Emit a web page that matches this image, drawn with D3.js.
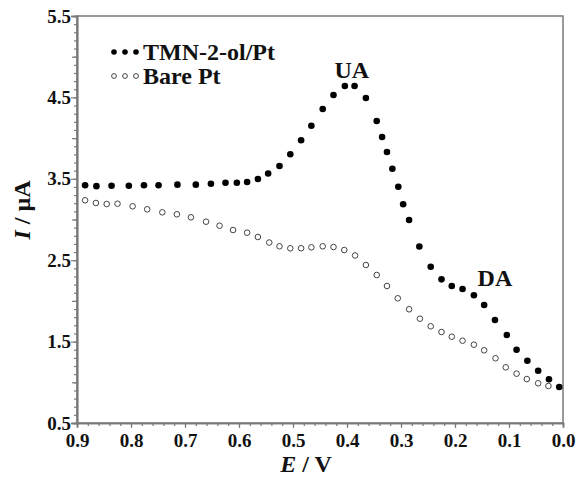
<!DOCTYPE html>
<html>
<head>
<meta charset="utf-8">
<script src="https://cdn.jsdelivr.net/npm/d3@7"></script>
<style>
  body { margin: 0; background: #fff; }
</style>
</head>
<body>
<div id="graf"></div>
<script>
// data (E in V, I in µA)
const eTmn = [0.885, 0.864, 0.836, 0.804, 0.776, 0.749, 0.714, 0.680, 0.652, 0.625, 0.604, 0.585,
  0.565, 0.546, 0.525, 0.505, 0.485, 0.466, 0.445, 0.425, 0.404, 0.386, 0.365, 0.345, 0.335,
  0.326, 0.316, 0.305, 0.296, 0.285, 0.266, 0.245, 0.225, 0.206, 0.186, 0.165, 0.146, 0.126,
  0.104, 0.086, 0.066, 0.046, 0.026, 0.007]
const iTmn = [3.42, 3.41, 3.415, 3.415, 3.42, 3.42, 3.428, 3.428, 3.44, 3.452, 3.452, 3.461,
  3.498, 3.565, 3.657, 3.801, 3.973, 4.152, 4.357, 4.53, 4.64, 4.64, 4.493, 4.21, 4.014,
  3.829, 3.624, 3.403, 3.187, 2.994, 2.668, 2.42, 2.265, 2.183, 2.146, 2.069, 1.95, 1.765,
  1.581, 1.40, 1.265, 1.142, 1.037, 0.942]

const eBare = [0.885, 0.865, 0.845, 0.825, 0.797, 0.770, 0.742, 0.715, 0.689, 0.661, 0.636,
  0.611, 0.585, 0.565, 0.544, 0.525, 0.505, 0.485, 0.466, 0.445, 0.425, 0.405, 0.385, 0.365,
  0.345, 0.326, 0.306, 0.285, 0.265, 0.245, 0.225, 0.206, 0.186, 0.165, 0.146, 0.125, 0.106,
  0.086, 0.067, 0.046, 0.027]
const iBare = [3.236, 3.203, 3.19, 3.194, 3.162, 3.125, 3.088, 3.064, 3.027, 2.973, 2.924,
  2.871, 2.838, 2.785, 2.717, 2.671, 2.646, 2.647, 2.658, 2.671, 2.662, 2.625, 2.558, 2.441,
  2.318, 2.183, 2.032, 1.897, 1.781, 1.688, 1.618, 1.56, 1.511, 1.462, 1.393, 1.295, 1.184,
  1.106, 1.04, 0.988, 0.955]

const xTicks = [0.9, 0.8, 0.7, 0.6, 0.5, 0.4, 0.3, 0.2, 0.1, 0.0]
const yTicks = [0.5, 1.5, 2.5, 3.5, 4.5, 5.5]
const seriesNames = ['TMN-2-ol/Pt', 'Bare Pt']
const peakLabels = [{ txt: 'UA', e: 0.391, i: 4.74 }, { txt: 'DA', e: 0.126, i: 2.18 }]

const fuente = "'Liberation Serif', Tinos, 'Times New Roman', Times, 'Nimbus Roman', 'DejaVu Serif', serif"

const anchoTotal = 587
const altoTotal = 482
const margin = { top: 16, bottom: 59, left: 77, right: 24 }
const ancho = anchoTotal - margin.left - margin.right
const alto = altoTotal - margin.top - margin.bottom
const gris = '#7a7a7a'

const svg = d3.select('#graf')
  .append('svg')
  .attr('width', anchoTotal)
  .attr('height', altoTotal)

const g = svg.append('g')
  .attr('transform', `translate(${margin.left}, ${margin.top})`)

// scales
const x = d3.scaleLinear().domain([0.9, 0.0]).range([0, ancho])
const y = d3.scaleLinear().domain([0.5, 5.5]).range([alto, 0])

// minor ticks
const xMinor = d3.range(0, 46).map((d) => d * 0.02)
const yMinor = d3.range(5, 56).map((d) => d / 10)
const yMid = [1, 2, 3, 4, 5]

g.append('g')
  .attr('transform', `translate(0, ${alto})`)
  .call(d3.axisBottom(x).tickValues(xMinor).tickSize(3).tickFormat(''))
g.append('g')
  .call(d3.axisLeft(y).tickValues(yMinor).tickSize(3).tickFormat(''))
g.append('g')
  .call(d3.axisLeft(y).tickValues(yMid).tickSize(5).tickFormat(''))

const ejeX = g.append('g')
  .attr('transform', `translate(0, ${alto})`)
  .call(d3.axisBottom(x).tickValues(xTicks).tickSize(5).tickPadding(4).tickFormat(d3.format('.1f')))
ejeX.selectAll('text').attr('dy', '0.78em')

const ejeY = g.append('g')
  .call(d3.axisLeft(y).tickValues(yTicks).tickSize(6).tickPadding(0).tickFormat(d3.format('.1f')))
ejeY.selectAll('text').attr('dy', '0.32em')

g.selectAll('.domain').attr('stroke', gris).attr('stroke-width', 1.5)
g.selectAll('.tick line').attr('stroke', gris).attr('stroke-width', 1.2)
g.selectAll('.tick text')
  .attr('fill', '#111')
  .attr('font-family', null)
  .style('font-size', '19px')
  .style('font-family', fuente)
  .style('font-weight', 'bold')

// frame
g.append('rect')
  .attr('width', ancho)
  .attr('height', alto)
  .attr('fill', 'none')
  .attr('stroke', gris)
  .attr('stroke-width', 1.5)

// bare Pt (open circles)
g.selectAll('circle.bare')
  .data(d3.zip(eBare, iBare))
  .enter()
  .append('circle')
  .attr('class', 'bare')
  .attr('cx', (d) => x(d[0]))
  .attr('cy', (d) => y(d[1]))
  .attr('r', 2.8)
  .attr('fill', '#fff')
  .attr('stroke', '#444')
  .attr('stroke-width', 1)

// TMN-2-ol/Pt (filled circles)
g.selectAll('circle.tmn')
  .data(d3.zip(eTmn, iTmn))
  .enter()
  .append('circle')
  .attr('class', 'tmn')
  .attr('cx', (d) => x(d[0]))
  .attr('cy', (d) => y(d[1]))
  .attr('r', 3.3)
  .attr('fill', '#000')

// peak labels
g.selectAll('text.pico')
  .data(peakLabels)
  .enter()
  .append('text')
  .attr('class', 'pico')
  .attr('x', (d) => x(d.e))
  .attr('y', (d) => y(d.i))
  .attr('text-anchor', 'middle')
  .style('font-family', fuente)
  .style('font-weight', 'bold')
  .style('font-size', '24px')
  .attr('fill', '#111')
  .text((d) => d.txt)

// legend
const leyenda = svg.append('g')
seriesNames.forEach((nombre, k) => {
  const ly = 52 + k * 24
  d3.range(3).forEach((j) => {
    leyenda.append('circle')
      .attr('cx', 114 + j * 11)
      .attr('cy', ly)
      .attr('r', k === 0 ? 2.8 : 2.4)
      .attr('fill', k === 0 ? '#000' : '#fff')
      .attr('stroke', k === 0 ? 'none' : '#444')
      .attr('stroke-width', 1)
  })
  leyenda.append('text')
    .attr('x', 143)
    .attr('y', ly + 8)
    .style('font-family', fuente)
    .style('font-weight', 'bold')
    .style('font-size', '24px')
    .attr('fill', '#111')
    .text(nombre)
})

// axis titles
const tituloX = svg.append('text')
  .attr('x', 306)
  .attr('y', 472)
  .attr('text-anchor', 'middle')
  .style('font-family', fuente)
  .style('font-weight', 'bold')
  .style('font-size', '24px')
  .attr('fill', '#111')
tituloX.append('tspan').style('font-style', 'italic').text('E')
tituloX.append('tspan').text(' / V')

const tituloY = svg.append('text')
  .attr('transform', 'translate(30, 210) rotate(-90)')
  .attr('text-anchor', 'middle')
  .style('font-family', fuente)
  .style('font-weight', 'bold')
  .style('font-size', '24px')
  .attr('fill', '#111')
tituloY.append('tspan').style('font-style', 'italic').text('I')
tituloY.append('tspan').text(' / µA')
</script>
</body>
</html>
